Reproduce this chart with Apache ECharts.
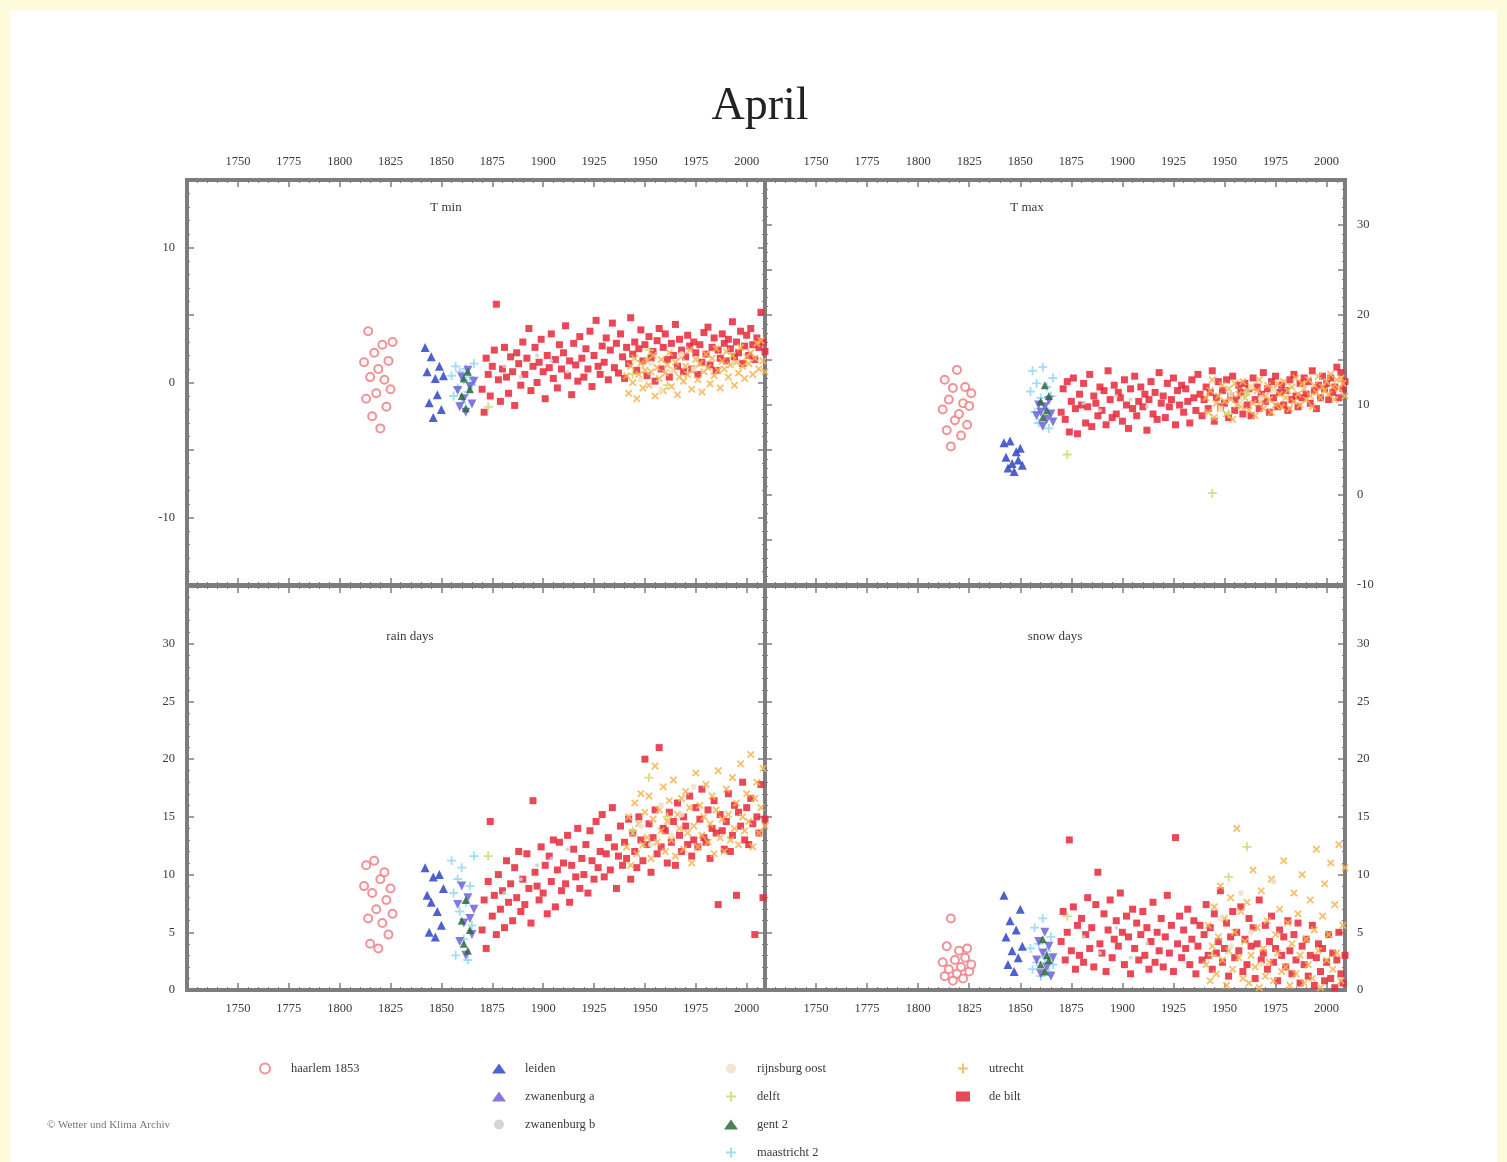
<!DOCTYPE html>
<html>
<head>
<meta charset="utf-8">
<script src="https://cdn.jsdelivr.net/npm/echarts@6/dist/echarts.min.js"></script>
<style>
  html, body { margin: 0; padding: 0; background: #fdfbdc; }
  #chart { width: 1507px; height: 1162px; }
</style>
</head>
<body>
<div id="chart"></div>
<script>
// ---------------------------------------------------------------
// April station records: minimum / maximum temperature, rain days, snow days
// ---------------------------------------------------------------

const panelTitles = ['T min', 'T max', 'rain days', 'snow days'];

// station years
const haarlemYears = [1812, 1813, 1814, 1815, 1816, 1817, 1818, 1819, 1820, 1821, 1822, 1823, 1824, 1825, 1826];
const leidenYears = [1842, 1843, 1844, 1845, 1846, 1847, 1848, 1849, 1850, 1851];
const zwanAYears = [1858, 1859, 1860, 1861, 1862, 1863, 1864, 1865, 1866];
const zwanBYears = [1881, 1889, 1897, 1904, 1912];
const rijnsburgYears = [1948, 1953, 1958, 1963, 1968, 1974];
const delftYears = [1873, 1944, 1952, 1961];
const gentYears = [1860, 1861, 1862, 1863, 1864];
const maastrichtYears = [1855, 1856, 1857, 1858, 1859, 1860, 1861, 1862, 1863, 1864, 1865, 1866];
const utrechtFirstYear = 1941;
const deBiltFirstYear = 1870;

// haarlem 1853
const haarlemTmin = [1.5, -1.2, 3.8, 0.4, -2.5, 2.2, -0.8, 1.0, -3.4, 2.8, 0.2, -1.8, 1.6, -0.5, 3.0];
const haarlemTmax = [9.5, 12.8, 7.2, 10.6, 5.4, 11.9, 8.3, 13.9, 9.0, 6.6, 10.2, 12.0, 7.8, 9.9, 11.3];
const haarlemRain = [9.0, 10.8, 6.2, 4.0, 8.4, 11.2, 7.0, 3.6, 9.6, 5.8, 10.2, 7.8, 4.8, 8.8, 6.6];
const haarlemSnow = [2.4, 1.2, 3.8, 1.8, 6.2, 0.8, 2.6, 1.4, 3.4, 2.0, 1.0, 2.8, 3.6, 1.6, 2.2];

// leiden
const leidenTmin = [2.6, 0.8, -1.5, 1.9, -2.6, 0.3, -0.9, 1.2, -2.0, 0.5];
const leidenTmax = [5.8, 4.2, 3.0, 6.0, 3.5, 2.6, 4.8, 3.9, 5.2, 3.3];
const leidenRain = [10.6, 8.2, 5.0, 7.6, 9.8, 4.6, 6.8, 10.0, 5.6, 8.8];
const leidenSnow = [8.2, 4.6, 2.2, 6.0, 3.4, 1.6, 5.2, 2.8, 7.0, 3.8];

// zwanenburg a
const zwanATmin = [-0.6, -1.8, 0.4, -1.2, -2.2, 0.9, -0.3, -1.6, 0.1];
const zwanATmax = [8.8, 10.0, 9.2, 7.6, 9.8, 8.4, 10.5, 9.0, 8.1];
const zwanARain = [7.4, 4.2, 9.0, 5.8, 3.0, 8.0, 6.2, 4.8, 7.0];
const zwanASnow = [2.6, 4.2, 1.4, 3.2, 5.0, 2.0, 3.8, 1.2, 2.8];

// zwanenburg b
const zwanBTmin = [1.2, 0.4, 2.0, 1.6, 0.8];
const zwanBTmax = [10.2, 9.4, 11.0, 10.6, 9.8];
const zwanBRain = [8.4, 9.6, 10.8, 11.4, 12.2];
const zwanBSnow = [4.6, 3.2, 5.4, 2.8, 4.0];

// rijnsburg oost
const rijnsburgTmin = [0.2, 1.4, -0.6, 0.9, 2.1, 1.0];
const rijnsburgTmax = [9.6, 11.2, 10.4, 12.0, 10.8, 11.6];
const rijnsburgRain = [14.2, 12.6, 16.0, 13.4, 15.2, 17.6];
const rijnsburgSnow = [6.2, 3.8, 8.4, 5.0, 2.2, 9.4];

// delft
const delftTmin = [-1.8, 0.6, 2.4, -0.2];
const delftTmax = [4.5, 0.2, 9.0, 11.4];
const delftRain = [11.6, 13.8, 18.4, 15.0];
const delftSnow = [6.4, 3.0, 9.8, 12.4];

// gent 2
const gentTmin = [-1.0, 0.3, -1.9, 0.8, -0.5];
const gentTmax = [10.4, 8.6, 12.2, 9.4, 11.0];
const gentRain = [6.0, 4.0, 7.8, 3.4, 5.2];
const gentSnow = [2.2, 4.4, 1.6, 3.0, 2.6];

// maastricht 2
const maastrichtTmin = [0.5, -1.0, 1.2, -0.4, 0.8, -1.5, 0.2, 1.0, -0.7, 0.4, -0.2, 1.4];
const maastrichtTmax = [11.5, 13.8, 9.2, 12.4, 8.0, 10.8, 14.2, 9.6, 12.0, 7.4, 11.0, 13.0];
const maastrichtRain = [11.2, 8.4, 3.0, 9.6, 6.8, 10.6, 4.4, 7.6, 2.6, 9.0, 5.6, 11.6];
const maastrichtSnow = [3.6, 1.8, 5.4, 2.4, 4.0, 1.2, 6.2, 2.8, 3.4, 1.6, 4.6, 2.2];

// utrecht, 1941-2009
const utrechtTmin = [
  0.5, -0.8, 1.2, 0.0, 1.8, -1.2, 0.6, 1.4, -0.4, 0.9,
  1.6, -0.2, 0.8, 2.0, -1.0, 1.1, 0.3, 1.7, -0.6, 0.7,
  1.3, 2.2, -0.3, 0.9, 1.5, -0.9, 0.4, 1.9, 0.1, 1.2,
  0.6, 2.4, -0.5, 1.0, 1.7, 0.2, 1.4, -0.7, 0.8, 2.1,
  1.1, -0.1, 1.8, 0.5, 2.5, 0.9, -0.4, 1.6, 1.0, 2.3,
  0.4, 1.3, 2.0, -0.2, 1.5, 0.7, 2.6, 1.2, 0.3, 1.9,
  1.4, 2.2, 0.6, 1.8, 2.9, 1.0, 3.1, 1.6, 0.8];
const utrechtTmax = [
  10.8, 9.2, 11.6, 12.8, 8.6, 10.2, 11.0, 9.6, 12.2, 10.4,
  9.0, 11.8, 10.6, 8.4, 12.4, 10.0, 11.2, 9.8, 12.6, 10.8,
  11.4, 9.4, 12.0, 10.2, 8.8, 11.6, 12.8, 10.4, 9.6, 11.0,
  12.2, 10.6, 9.2, 11.8, 10.0, 12.4, 11.2, 9.8, 12.6, 10.8,
  11.6, 9.6, 12.0, 10.4, 13.0, 11.2, 10.0, 12.4, 11.8, 10.6,
  12.8, 11.0, 9.8, 12.2, 11.4, 13.2, 10.8, 12.0, 11.6, 12.6,
  11.2, 13.4, 12.0, 10.6, 12.8, 11.8, 13.0, 12.4, 11.0];
const utrechtRain = [
  12.4, 15.0, 10.8, 13.6, 16.2, 11.8, 14.4, 17.0, 12.6, 15.4,
  13.2, 16.8, 11.4, 14.8, 19.4, 12.8, 15.6, 13.8, 17.6, 12.0,
  14.6, 16.4, 13.0, 18.2, 11.6, 15.2, 14.0, 16.6, 12.2, 17.2,
  13.6, 15.8, 11.0, 14.2, 18.8, 12.4, 16.0, 13.4, 15.0, 17.8,
  12.8, 14.4, 16.8, 11.8, 15.6, 19.0, 13.2, 14.8, 12.0, 17.4,
  15.2, 13.0, 18.4, 14.0, 16.2, 12.6, 19.6, 15.0, 13.8, 17.0,
  14.6, 20.4, 12.4, 16.6, 18.0, 13.6, 15.8, 19.2, 14.2];
const utrechtSnow = [
  2.2, 5.6, 0.8, 3.8, 7.2, 1.4, 4.6, 9.0, 2.6, 6.2,
  0.4, 3.4, 8.0, 1.8, 5.0, 14.0, 2.8, 6.8, 1.0, 4.2,
  7.6, 0.6, 3.0, 10.4, 2.0, 5.4, 0.2, 8.6, 3.6, 1.2,
  6.0, 2.4, 9.6, 0.8, 4.8, 3.2, 7.0, 1.6, 11.2, 2.0,
  5.8, 0.4, 4.0, 8.4, 1.4, 6.6, 3.0, 10.0, 0.6, 4.4,
  2.2, 7.8, 1.0, 5.2, 12.2, 3.4, 0.2, 6.4, 9.2, 2.6,
  4.8, 11.0, 1.8, 7.4, 3.2, 12.6, 0.8, 5.6, 10.6];

// de bilt, 1870-2009
const deBiltTmin = [
  -0.5, -2.2, 1.8, 0.6, -1.0, 1.2, 2.4, 5.8, 0.2, -1.4,
  1.0, 2.6, 0.4, -0.8, 1.9, 0.8, -1.7, 2.2, 1.4, -0.2,
  3.0, 0.6, 1.8, 4.0, -0.6, 1.2, 2.6, 0.0, 1.5, 3.2,
  0.8, -1.2, 2.0, 1.1, 3.6, 0.3, 1.7, -0.4, 2.8, 1.0,
  2.2, 4.2, 0.5, 1.6, -0.9, 2.9, 1.3, 0.1, 3.4, 1.8,
  0.4, 2.5, 1.0, 3.8, -0.3, 2.0, 4.6, 1.2, 0.6, 2.7,
  1.5, 3.3, 0.2, 2.4, 4.4, 1.1, 2.9, 0.7, 3.6, 1.9,
  0.3, 2.6, 1.4, 4.8, 2.1, 3.0, 0.9, 2.5, 3.9, 1.6,
  2.8, 0.5, 3.4, 1.8, 2.3, 0.1, 3.1, 4.0, 1.0, 2.6,
  3.6, 1.7, 0.4, 2.9, 2.0, 4.3, 1.2, 3.2, 2.4, 0.8,
  1.9, 3.5, 2.7, 1.0, 3.0, 2.2, 0.6, 2.8, 1.5, 3.7,
  2.1, 4.1, 1.3, 2.6, 3.3, 0.9, 2.4, 1.8, 3.6, 2.9,
  1.6, 3.2, 2.5, 4.5, 1.9, 3.0, 2.2, 3.8, 1.4, 2.7,
  3.5, 2.0, 4.0, 2.8, 1.7, 3.3, 2.6, 5.2, 3.0, 2.3];
const deBiltTmax = [
  9.2, 11.8, 8.4, 12.6, 7.0, 10.4, 13.0, 9.6, 6.8, 11.2,
  10.0, 12.4, 8.0, 9.8, 13.4, 7.6, 11.0, 10.2, 8.8, 12.0,
  9.4, 11.6, 7.8, 13.8, 10.6, 8.6, 12.2, 9.0, 11.4, 10.8,
  8.2, 12.8, 10.0, 7.4, 11.8, 9.6, 13.2, 8.8, 10.4, 12.0,
  9.8, 11.2, 7.2, 10.6, 12.6, 9.0, 11.4, 8.4, 13.6, 10.2,
  11.0, 8.6, 12.4, 9.8, 10.6, 13.0, 7.8, 11.6, 10.0, 12.2,
  9.2, 11.8, 10.4, 8.0, 12.8, 10.8, 9.4, 13.4, 11.2, 8.8,
  10.6, 12.0, 9.6, 11.4, 13.8, 8.2, 10.8, 12.6, 9.8, 11.6,
  10.2, 12.8, 8.6, 11.0, 13.2, 9.4, 10.6, 12.2, 11.4, 9.0,
  12.4, 10.0, 11.8, 8.8, 13.0, 10.6, 12.0, 9.6, 11.2, 13.6,
  10.4, 11.8, 9.2, 12.6, 10.8, 13.2, 9.8, 11.4, 12.2, 10.0,
  11.6, 9.4, 12.8, 10.6, 13.4, 11.0, 9.8, 12.4, 10.8, 13.0,
  11.2, 12.6, 10.2, 13.8, 11.6, 9.6, 12.2, 10.8, 13.2, 11.8,
  12.4, 10.6, 13.0, 11.4, 12.0, 14.2, 10.8, 13.6, 11.8, 12.6];
const deBiltRain = [
  5.2, 7.8, 3.6, 9.4, 14.6, 6.4, 8.2, 4.8, 10.0, 7.0,
  8.6, 5.4, 11.2, 7.6, 9.2, 6.0, 10.6, 8.0, 12.0, 6.8,
  9.6, 7.4, 11.8, 8.8, 5.8, 16.4, 10.2, 9.0, 7.8, 12.4,
  8.4, 10.8, 6.6, 11.6, 9.4, 13.0, 7.2, 10.4, 12.8, 8.6,
  11.0, 9.2, 13.4, 7.6, 10.8, 12.2, 9.8, 14.0, 8.8, 11.4,
  10.0, 12.6, 8.4, 13.8, 11.2, 9.6, 14.6, 10.6, 12.0, 15.2,
  9.8, 11.8, 13.2, 10.4, 15.8, 12.4, 8.8, 11.6, 14.2, 10.8,
  12.8, 11.4, 14.8, 9.6, 13.6, 12.0, 10.6, 15.0, 13.0, 11.2,
  20.0, 12.6, 14.4, 10.2, 13.2, 15.6, 11.8, 21.0, 12.4, 14.0,
  13.8, 11.0, 15.4, 12.8, 14.6, 10.8, 16.2, 13.4, 12.0, 15.0,
  14.2, 12.6, 16.8, 11.6, 13.0, 15.8, 12.4, 14.8, 17.4, 13.2,
  12.8, 15.6, 11.4, 14.0, 16.4, 13.6, 7.4, 15.2, 13.8, 12.2,
  14.6, 17.0, 12.0, 13.4, 16.0, 8.2, 15.4, 14.2, 18.0, 13.0,
  15.8, 12.6, 16.6, 14.4, 4.8, 15.0, 13.6, 17.8, 8.0, 14.8];
const deBiltSnow = [
  4.2, 6.8, 2.6, 5.0, 13.0, 3.4, 7.2, 1.8, 5.6, 3.0,
  6.2, 2.4, 4.8, 8.0, 3.6, 5.4, 2.0, 7.4, 10.2, 4.0,
  3.2, 6.6, 1.6, 5.2, 7.8, 2.8, 4.4, 6.0, 3.8, 8.4,
  5.0, 2.2, 6.4, 4.6, 1.4, 7.0, 3.6, 5.8, 2.6, 4.8,
  6.8, 3.0, 5.4, 1.8, 4.2, 7.6, 2.4, 5.0, 3.4, 6.2,
  2.0, 4.6, 8.2, 3.2, 5.6, 1.6, 13.2, 4.0, 6.4, 2.8,
  5.2, 3.6, 7.0, 2.2, 4.4, 6.0, 1.4, 3.8, 5.6, 2.6,
  4.8, 7.4, 3.0, 5.4, 1.8, 6.6, 3.2, 4.2, 8.6, 2.4,
  3.6, 5.8, 1.2, 4.6, 6.8, 2.8, 5.0, 3.4, 7.2, 1.6,
  4.4, 2.2, 6.2, 3.8, 5.4, 1.0, 4.0, 7.8, 2.6, 3.2,
  5.6, 1.8, 4.2, 6.4, 2.4, 3.6, 0.8, 5.2, 3.0, 4.6,
  2.0, 6.0, 3.4, 1.4, 4.8, 2.6, 5.8, 0.6, 3.8, 2.2,
  4.4, 1.2, 3.0, 5.6, 0.4, 2.8, 4.0, 1.6, 3.6, 0.8,
  2.4, 4.8, 1.0, 3.2, 0.2, 2.6, 5.0, 1.4, 0.6, 3.0];

// ---------------------------------------------------------------
function runOfYears(first, count) {
  return Array.from({ length: count }, (_, i) => first + i);
}
const utrechtYears = runOfYears(utrechtFirstYear, utrechtTmin.length);
const deBiltYears = runOfYears(deBiltFirstYear, deBiltTmin.length);

const PLUS = 'path://M4,0H6V4H10V6H6V10H4V6H0V4H4Z';

// legend order, column by column
const stations = [
  { name: 'haarlem 1853', years: haarlemYears, panels: [haarlemTmin, haarlemTmax, haarlemRain, haarlemSnow],
    symbol: 'emptyCircle', size: 8, color: '#ef7f86' },
  { name: 'leiden', years: leidenYears, panels: [leidenTmin, leidenTmax, leidenRain, leidenSnow],
    symbol: 'triangle', size: 9, color: '#2f45c4' },
  { name: 'zwanenburg a', years: zwanAYears, panels: [zwanATmin, zwanATmax, zwanARain, zwanASnow],
    symbol: 'triangle', rotate: 180, size: 9, color: '#6f63d8' },
  { name: 'zwanenburg b', years: zwanBYears, panels: [zwanBTmin, zwanBTmax, zwanBRain, zwanBSnow],
    symbol: 'circle', size: 4, color: '#cfcfcf' },
  { name: 'rijnsburg oost', years: rijnsburgYears, panels: [rijnsburgTmin, rijnsburgTmax, rijnsburgRain, rijnsburgSnow],
    symbol: 'circle', size: 6, color: '#eee3c8' },
  { name: 'delft', years: delftYears, panels: [delftTmin, delftTmax, delftRain, delftSnow],
    symbol: PLUS, size: 9, color: '#cfd874' },
  { name: 'gent 2', years: gentYears, panels: [gentTmin, gentTmax, gentRain, gentSnow],
    symbol: 'triangle', size: 8, color: '#2e6b3c' },
  { name: 'maastricht 2', years: maastrichtYears, panels: [maastrichtTmin, maastrichtTmax, maastrichtRain, maastrichtSnow],
    symbol: PLUS, size: 9, color: '#8fd8ee' },
  { name: 'utrecht', years: utrechtYears, panels: [utrechtTmin, utrechtTmax, utrechtRain, utrechtSnow],
    symbol: PLUS, rotate: 45, size: 9, color: '#f6b451' },
  { name: 'de bilt', years: deBiltYears, panels: [deBiltTmin, deBiltTmax, deBiltRain, deBiltSnow],
    symbol: 'rect', size: 7, color: '#e8283a' }
];

// drawing order: the long records underneath, the short ones on top
const drawOrder = ['de bilt', 'utrecht', 'rijnsburg oost', 'zwanenburg b', 'delft',
                   'haarlem 1853', 'maastricht 2', 'leiden', 'zwanenburg a', 'gent 2'];

const FONT = 'Liberation Serif';
const FRAME = '#7d7d7d';
const TEXT = '#3a3a3a';

const grids = [
  { left: 187, top: 180, width: 578, height: 405 },
  { left: 765, top: 180, width: 580, height: 405 },
  { left: 187, top: 586, width: 578, height: 404 },
  { left: 765, top: 586, width: 580, height: 404 }
];

const yRanges = [
  { min: -15, max: 15, step: 10 },
  { min: -10, max: 35, step: 10 },
  { min: 0, max: 35, step: 5 },
  { min: 0, max: 35, step: 5 }
];

const xAxes = [];
const yAxes = [];
grids.forEach((g, gi) => {
  const isTop = gi < 2;
  const isLeft = gi % 2 === 0;
  ['bottom', 'top'].forEach(pos => {
    const labelled = (isTop && pos === 'top') || (!isTop && pos === 'bottom');
    xAxes.push({
      type: 'value', gridIndex: gi, position: pos, min: 1725, max: 2009, interval: 25,
      axisLine: { show: false, onZero: false },
      axisTick: { show: true, inside: true, length: 7, lineStyle: { color: FRAME, width: 1.5 } },
      minorTick: { show: true, splitNumber: 5, length: 3, lineStyle: { color: FRAME, width: 1 } },
      splitLine: { show: false },
      axisLabel: {
        show: labelled, margin: 12, color: TEXT, fontFamily: FONT, fontSize: 12.5,
        formatter: v => (v === 1725 || v > 2000) ? '' : String(v)
      }
    });
  });
  const r = yRanges[gi];
  ['left', 'right'].forEach(pos => {
    const labelled = (isLeft && pos === 'left') || (!isLeft && pos === 'right');
    yAxes.push({
      type: 'value', gridIndex: gi, position: pos, min: r.min, max: r.max, interval: 5,
      axisLine: { show: false, onZero: false },
      axisTick: { show: true, inside: true, length: 7, lineStyle: { color: FRAME, width: 1.5 } },
      minorTick: { show: true, splitNumber: 5, length: 3, lineStyle: { color: FRAME, width: 1 } },
      splitLine: { show: false },
      axisLabel: {
        show: labelled, margin: 12, color: TEXT, fontFamily: FONT, fontSize: 12.5,
        formatter: v => {
          if (gi >= 2 && v === 35) return '';
          return (v % r.step === 0) ? String(v) : '';
        }
      }
    });
  });
});

const series = [];
drawOrder.forEach(name => {
  const st = stations.find(s => s.name === name);
  st.panels.forEach((vals, gi) => {
    series.push({
      type: 'scatter', name: st.name,
      xAxisIndex: gi * 2, yAxisIndex: gi * 2,
      symbol: st.symbol, symbolSize: st.size, symbolRotate: st.rotate || 0,
      itemStyle: { color: st.color, opacity: 0.85, borderWidth: st.symbol === 'emptyCircle' ? 1.6 : 0 },
      emphasis: { disabled: true },
      data: st.years.map((y, i) => [y, vals[i]])
    });
  });
});

function legendColumn(names, center) {
  return {
    orient: 'vertical', left: center - 7, top: 1062, height: 140, padding: 0,
    itemWidth: 14, itemHeight: 10, itemGap: 15,
    textStyle: { fontFamily: FONT, fontSize: 12.5, color: TEXT, padding: [0, 0, 0, 14] },
    data: names, selectedMode: false
  };
}

const panelTitleSpots = [[446, 208], [1027, 208], [410, 637], [1055, 637]];

const option = {
  backgroundColor: '#fdfbdc',
  animation: false,
  grid: grids.map(g => Object.assign({ show: true, borderColor: FRAME, borderWidth: 4, backgroundColor: '#fff' }, g)),
  xAxis: xAxes,
  yAxis: yAxes,
  legend: [
    legendColumn(['haarlem 1853'], 266),
    legendColumn(['leiden', 'zwanenburg a', 'zwanenburg b'], 499),
    legendColumn(['rijnsburg oost', 'delft', 'gent 2', 'maastricht 2'], 731),
    legendColumn(['utrecht', 'de bilt'], 963)
  ],
  graphic: [
    { type: 'rect', z: -10, shape: { x: 10, y: 10, width: 1487, height: 1152 }, style: { fill: '#fff' } },
    { type: 'text', x: 760, y: 107, style: { text: 'April', font: '46px "' + FONT + '"', fill: '#222', align: 'center', verticalAlign: 'middle' } },
    { type: 'text', x: 47, y: 1125, style: { text: '© Wetter und Klima Archiv', font: '11px "' + FONT + '"', fill: '#777', verticalAlign: 'middle' } }
  ].concat(panelTitles.map((t, i) => ({
    type: 'text', x: panelTitleSpots[i][0], y: panelTitleSpots[i][1], z: 100,
    style: { text: t, font: '13px "' + FONT + '"', fill: TEXT, align: 'center', verticalAlign: 'middle' }
  }))),
  series: series
};

const chart = echarts.init(document.getElementById('chart'), null, { renderer: 'canvas' });
chart.setOption(option);
</script>
</body>
</html>
